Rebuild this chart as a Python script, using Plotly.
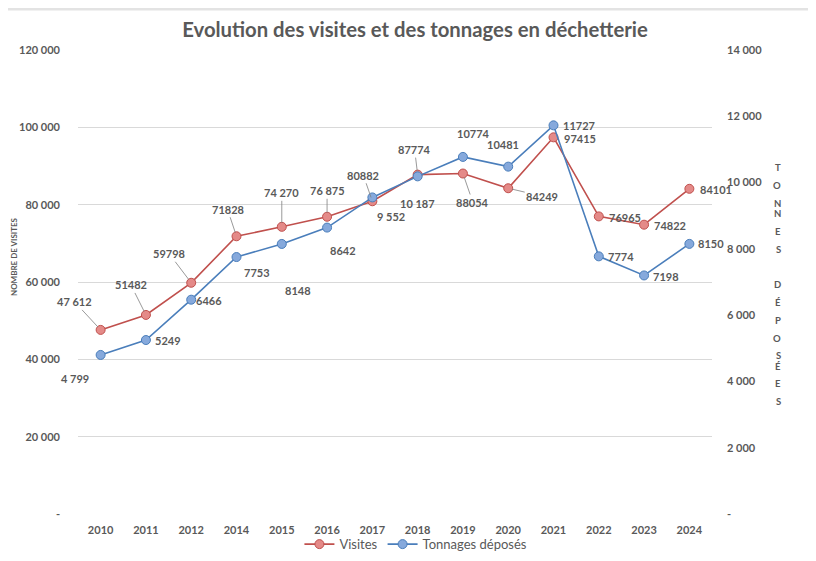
import plotly.graph_objects as go

years = ["2010", "2011", "2012", "2014", "2015", "2016", "2017", "2018", "2019", "2020", "2021", "2022", "2023", "2024"]
visites = [47612, 51482, 59798, 71828, 74270, 76875, 80882, 87774, 88054, 84249, 97415, 76965, 74822, 84101]
tonnages = [4799, 5249, 6466, 7753, 8148, 8642, 9552, 10187, 10774, 10481, 11727, 7774, 7198, 8150]
visites_text = ["47 612", "51482", "59798", "71828", "74 270", "76 875", "80882", "87774", "88054", "84249", "97415", "76965", "74822", "84101"]
tonnages_text = ["4 799", "5249", "6466", "7753", "8148", "8642", "9 552", "10 187", "10774", "10481", "11727", "7774", "7198", "8150"]
left_ticks = [0, 20000, 40000, 60000, 80000, 100000, 120000]
left_ticktext = ["-", "20 000", "40 000", "60 000", "80 000", "100 000", "120 000"]
right_ticks = [0, 2000, 4000, 6000, 8000, 10000, 12000, 14000]
right_ticktext = ["-", "2 000", "4 000", "6 000", "8 000", "10 000", "12 000", "14 000"]

GRAY = "#595959"
RED = "#c0504d"
RED_FILL = "#e48a88"
BLUE = "#4a7ebb"
BLUE_FILL = "#86a9dc"
FONT = "Lato"

# label offsets in px (dx, dy), leader line flag
vis_off = [(-26, -28, True), (-15, -30, True), (-22, -29, True), (-9, -27, True), (0, -34, True), (0, -26, True),
           (-9, -26, True), (-3, -25, True), (10, 29, True), (34, 8, True), (26, 1, False), (26, 1, False),
           (26, 1, False), (27, 1, False)]
ton_off = [(-26, 24, False), (22, 0, False), (18, 1, False), (20, 15, False), (16, 47, False), (16, 23, False),
           (19, 19, False), (0, 27, False), (11, -23, False), (-5, -22, False), (25, 0, False), (22, 0, False),
           (22, 1, False), (22, 0, False)]

fig = go.Figure()
fig.add_trace(go.Scatter(
    x=years, y=visites, name="Visites", mode="lines+markers",
    line=dict(color=RED, width=1.6),
    marker=dict(size=9, color=RED_FILL, line=dict(color=RED, width=1)),
    yaxis="y"))
fig.add_trace(go.Scatter(
    x=years, y=tonnages, name="Tonnages déposés", mode="lines+markers",
    line=dict(color=BLUE, width=1.6),
    marker=dict(size=9, color=BLUE_FILL, line=dict(color=BLUE, width=1)),
    yaxis="y2"))

lab_font = dict(family=FONT, size=11, color=GRAY, weight="bold")
ann = []
for i, (v, t) in enumerate(zip(visites, visites_text)):
    dx, dy, lead = vis_off[i]
    if lead:
        ann.append(dict(x=i, y=v, xref="x", yref="y", text=t, showarrow=True, ax=dx, ay=dy,
                        arrowhead=0, arrowwidth=0.8, arrowcolor="#7f7f7f", standoff=4,
                        font=lab_font))
    else:
        ann.append(dict(x=i, y=v, xref="x", yref="y", text=t, showarrow=False, xshift=dx, yshift=-dy,
                        font=lab_font))
for i, (v, t) in enumerate(zip(tonnages, tonnages_text)):
    dx, dy, lead = ton_off[i]
    ann.append(dict(x=i, y=v, xref="x", yref="y2", text=t, showarrow=False, xshift=dx, yshift=-dy,
                    font=lab_font))

# page offset: the page body has an 8px margin
OFF = 8
PL, PT, PW, PH = 78 - OFF, 50 - OFF, 634, 464
W, H = 816, 561

# axis titles
ann.append(dict(text="<b>NOMBRE DE VISITES</b>", xref="paper", yref="paper", x=-0.112, y=0.556,
                textangle=-90, showarrow=False, font=dict(family=FONT, size=8, color=GRAY)))
letters = "TONNES DÉPOSÉES"
for i, ch in enumerate(letters):
    if ch == " ":
        continue
    ypx = 160 + i * 17.8
    ann.append(dict(text=f"<b>{ch}</b>", xref="paper", yref="paper", x=(783 - 78) / PW,
                    y=(50 + PH - ypx) / PH, showarrow=False,
                    font=dict(family=FONT, size=9.5, color=GRAY)))

tick_font = dict(family=FONT, size=11, color=GRAY, weight="bold")
fig.update_layout(
    width=W, height=H,
    margin=dict(l=PL, r=W - PL - PW, t=PT, b=H - PT - PH, autoexpand=False),
    paper_bgcolor="white", plot_bgcolor="white",
    title=dict(text="<b>Evolution des visites et des tonnages en déchetterie</b>",
               x=(415 - OFF) / W, xanchor="center", y=1 - (30 - OFF) / H, yanchor="middle", automargin=False,
               font=dict(family=FONT, size=20.3, color=GRAY)),
    xaxis=dict(type="category", range=[-0.5, 13.5], showgrid=False, showline=False, ticks="",
               tickfont=tick_font, ticklabelstandoff=8, automargin=False),
    yaxis=dict(range=[0, 120000], tickvals=left_ticks, ticktext=left_ticktext,
               gridcolor="#d9d9d9", gridwidth=1, zeroline=False, showline=False,
               tickfont=tick_font, ticklabelstandoff=17, automargin=False),
    yaxis2=dict(range=[0, 14000], tickvals=right_ticks, ticktext=right_ticktext, overlaying="y",
                side="right", showgrid=False, zeroline=False, showline=False,
                tickfont=tick_font, ticklabelstandoff=14, automargin=False),
    legend=dict(orientation="h", x=0.533, xanchor="center", y=-0.065, yanchor="middle",
                bgcolor="rgba(0,0,0,0)",
                font=dict(family=FONT, size=13, color=GRAY), itemwidth=30, tracegroupgap=0),
    annotations=ann,
    shapes=[dict(type="line", xref="paper", yref="paper", x0=-PL / PW, x1=(W - PL) / PW,
                 y0=1 + (PT - 1) / PH, y1=1 + (PT - 1) / PH,
                 line=dict(color="#e3e3e3", width=3))],
    showlegend=True,
)
fig.update_traces(cliponaxis=False)
fig.write_html("out.html")
